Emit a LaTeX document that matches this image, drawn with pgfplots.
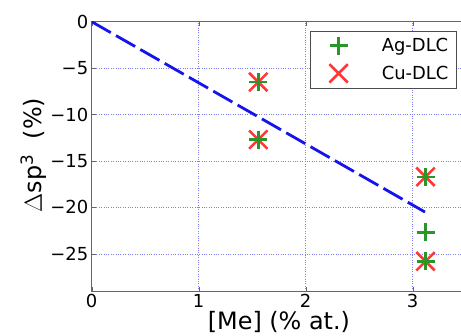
\documentclass[border=0pt]{standalone}
\usepackage{pgfplots}
\pgfplotsset{compat=1.18}
\usepackage{fontspec}
\setmainfont{DejaVu Sans}
\usetikzlibrary{calc}
\definecolor{mgreen}{RGB}{40,150,40}
\definecolor{mred}{RGB}{255,55,55}
\definecolor{mblue}{RGB}{20,20,235}
\begin{document}
\begin{tikzpicture}
\begin{axis}[name=ax, scale only axis, width=374.5bp, height=269.3bp,
  xmin=0, xmax=3.5, ymin=-29, ymax=0,
  xtick={0,1,2,3}, xticklabels={0,1,2,3},
  ytick={-25,-20,-15,-10,-5,0},
  yticklabels={−25,−20,−15,−10,−5,0},
  tick label style={font=\fontsize{18}{20}\selectfont},
  grid=major, grid style={mblue!55, dotted, line width=0.6pt},
  axis line style={black!60, line width=0.8pt},
  tick align=inside, major tick length=4bp, tick style={black!60},
  xlabel={[Me] (\% at.)},
  ylabel={$\Delta$sp\textsuperscript{3}\ \ (\%)},
  label style={font=\fontsize{24}{26}\selectfont},
  xlabel style={at={(axis description cs:0.5,-0.115)}, anchor=center},
  ylabel style={at={(axis description cs:-0.155,0.505)}, anchor=center},
  legend style={at={(0.9746,0.9655)}, anchor=north east, draw=black!70,
    font=\fontsize{18}{20}\selectfont, row sep=9bp, inner xsep=6bp, inner ysep=5bp},
  legend cell align=left,
  legend image code/.code={\path (0,0); \draw[#1] (21.3bp,0cm) -- plot coordinates {(21.3bp,0cm)};},
]
\addlegendimage{only marks, mark=+, mark size=9bp, mgreen, line width=2.5bp}
\addlegendentry{\hspace{32bp}Ag-DLC}
\addlegendimage{only marks, mark=x, mark size=13bp, mred, line width=2.5bp}
\addlegendentry{\hspace{32bp}Cu-DLC}
\addplot[mblue, line width=2.8bp, dash pattern=on 22bp off 6bp, forget plot] coordinates {(0,0) (3.115,-20.5)};
\addplot[only marks, mark=x, mark size=13bp, mred, line width=2.5bp, forget plot] coordinates {
(1.557,-6.5) (1.557,-12.7) (3.12,-16.7) (3.12,-25.8)};
\addplot[only marks, mark=+, mark size=9bp, mgreen, line width=2.5bp, forget plot] coordinates {
(1.557,-6.5) (1.557,-12.7) (3.12,-16.7) (3.12,-22.7) (3.12,-25.8)};
\end{axis}
\pgfresetboundingbox
\useasboundingbox ($(ax.south west)+(-91.7bp,-45bp)$) rectangle ($(ax.north west)+(369.3bp,21.7bp)$);
\end{tikzpicture}
\end{document}
